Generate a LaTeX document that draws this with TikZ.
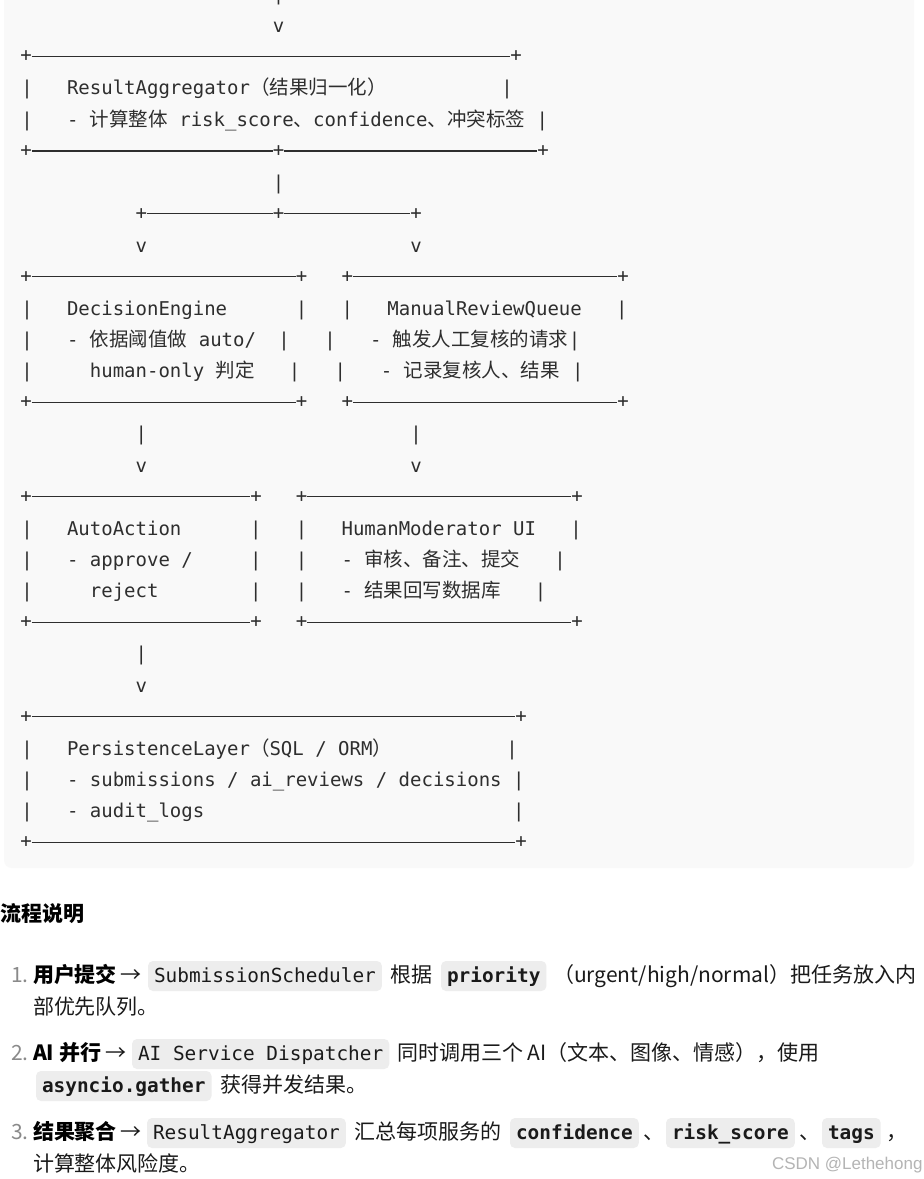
\documentclass[tikz,border=0pt]{standalone}
\usepackage{fontspec}
\newfontfamily\monof{DejaVu Sans Mono}
\newfontfamily\cjkf{Noto Sans CJK SC}
\newfontfamily\wmf{Liberation Sans}
\definecolor{txt}{HTML}{2E2E2E}
\definecolor{bodytxt}{HTML}{1A1A1A}
\definecolor{numgray}{HTML}{8A8A8A}
\definecolor{codebg}{HTML}{EDEDED}
\definecolor{blockbg}{HTML}{F9F9F9}
\definecolor{wm}{HTML}{B4B4B4}
\newcommand\cj[1]{{\cjkf\fontsize{19.5}{22}\selectfont #1}}
\tikzset{
  every node/.style={inner sep=0pt, outer sep=0pt},
  asc/.style={anchor=base west, font=\monof\fontsize{19}{22}\selectfont, text=txt},
  bar/.style={anchor=base, font=\monof\fontsize{19}{22}\selectfont, text=txt},
  crn/.style={anchor=center, font=\monof\fontsize{19}{22}\selectfont, text=txt},
  rule/.style={draw=txt, line width=1.3pt},
  body/.style={anchor=base west, font=\cjkf\fontsize{21}{26}\selectfont, text=bodytxt},
  bold/.style={anchor=base west, font=\cjkf\bfseries\fontsize{21}{26}\selectfont, text=black},
  num/.style={anchor=base west, font=\cjkf\fontsize{21}{26}\selectfont, text=numgray},
  arr/.style={anchor=base, font=\cjkf\fontsize{21}{26}\selectfont, text=bodytxt},
  code/.style={anchor=base west, font=\monof\fontsize{19.4}{22}\selectfont, text=bodytxt, fill=codebg, rounded corners=5pt, inner xsep=6pt, inner ysep=4pt, text height=17pt, text depth=5pt},
  codeb/.style={code, font=\monof\bfseries\fontsize{19.4}{22}\selectfont},
  wmark/.style={anchor=base west, font=\wmf\fontsize{17}{20}\selectfont, text=wm}
}
\begin{document}
\begin{tikzpicture}[x=1pt,y=-1pt]
\useasboundingbox (0,0) rectangle (924,1179);
\fill[white] (0,0) rectangle (924,1179);
\fill[blockbg, rounded corners=8pt] (4,-20) rectangle (914,868);

% top connector into ResultAggregator
\node[bar] (p0) at (278.7,0.7) {|};
\node[bar] (v1) at (278.7,32.13) {v};

% ResultAggregator box
\node[crn] (ra1) at (26,56.56) {+};
\node[crn] (ra2) at (516,56.56) {+};
\draw[rule] (ra1) -- (ra2);
\node[bar] (ral1) at (27,94.99) {|};
\node[asc] (ratx1) at (67,94.99) {ResultAggregator\cj{（结果归一化）}};
\node[bar] (rar1) at (507,94.99) {|};
\node[bar] (ral2) at (27,126.42) {|};
\node[asc] (ratx2) at (67,126.42) {- \cj{计算整体} risk\_score\cj{、}confidence\cj{、冲突标签}};
\node[bar] (rar2) at (542.3,126.42) {|};
\node[crn] (rb1) at (26,150.85) {+};
\node[crn] (rbm) at (278.7,150.85) {+};
\node[crn] (rb2) at (543,150.85) {+};
\draw[rule] (rb1) -- (rbm) -- (rb2);

% split connector
\node[bar] (p6) at (278.7,189.28) {|};
\node[crn] (s1) at (141.4,213.71) {+};
\node[crn] (sm) at (278.7,213.71) {+};
\node[crn] (s2) at (416,213.71) {+};
\draw[rule] (s1) -- (sm) -- (s2);
\node[bar] (v8a) at (141.4,252.14) {v};
\node[bar] (v8b) at (416,252.14) {v};

% DecisionEngine and ManualReviewQueue boxes
\node[crn] (da1) at (26,276.57) {+};
\node[crn] (da2) at (301.6,276.57) {+};
\node[crn] (ma1) at (347.3,276.57) {+};
\node[crn] (ma2) at (623,276.57) {+};
\draw[rule] (da1) -- (da2);
\draw[rule] (ma1) -- (ma2);
\node[bar] at (27,315) {|};
\node[asc] (detx1) at (67,315) {DecisionEngine};
\node[bar] at (301.6,315) {|};
\node[bar] at (347.3,315) {|};
\node[asc] (mrtx1) at (387.4,315) {ManualReviewQueue};
\node[bar] at (621.9,315) {|};
\node[bar] at (27,346.43) {|};
\node[asc] (detx2) at (67,346.43) {- \cj{依据阈值做} auto/};
\node[bar] at (284.2,346.43) {|};
\node[bar] at (330,346.43) {|};
\node[asc] (mrtx2) at (370,346.43) {- \cj{触发人工复核的请求}};
\node[bar] at (574.6,346.43) {|};
\node[bar] at (27,377.86) {|};
\node[asc] (detx3) at (89.9,377.86) {human-only \cj{判定}};
\node[bar] at (294.5,377.86) {|};
\node[bar] at (340.3,377.86) {|};
\node[asc] (mrtx3) at (380.8,377.86) {- \cj{记录复核人、结果}};
\node[bar] at (577.8,377.86) {|};
\node[crn] (db1) at (26,402.29) {+};
\node[crn] (db2) at (301.6,402.29) {+};
\node[crn] (mb1) at (347.3,402.29) {+};
\node[crn] (mb2) at (623,402.29) {+};
\draw[rule] (db1) -- (db2);
\draw[rule] (mb1) -- (mb2);

% connectors down
\node[bar] (p14a) at (141.4,440.72) {|};
\node[bar] (p14b) at (416,440.72) {|};
\node[bar] (v15a) at (141.4,472.15) {v};
\node[bar] (v15b) at (416,472.15) {v};

% AutoAction and HumanModerator UI boxes
\node[crn] (aa1) at (26,496.58) {+};
\node[crn] (aa2) at (256,496.58) {+};
\node[crn] (ha1) at (301.6,496.58) {+};
\node[crn] (ha2) at (577,496.58) {+};
\draw[rule] (aa1) -- (aa2);
\draw[rule] (ha1) -- (ha2);
\node[bar] at (27,535.01) {|};
\node[asc] (aatx1) at (67,535.01) {AutoAction};
\node[bar] at (255.8,535.01) {|};
\node[bar] at (301.6,535.01) {|};
\node[asc] (hmtx1) at (341.6,535.01) {HumanModerator UI};
\node[bar] at (576.1,535.01) {|};
\node[bar] at (27,566.44) {|};
\node[asc] (aatx2) at (67,566.44) {- approve /};
\node[bar] at (255.8,566.44) {|};
\node[bar] at (301.6,566.44) {|};
\node[asc] (hmtx2) at (341.6,566.44) {- \cj{审核、备注、提交}};
\node[bar] at (560,566.44) {|};
\node[bar] at (27,597.87) {|};
\node[asc] (aatx3) at (89.9,597.87) {reject};
\node[bar] at (255.8,597.87) {|};
\node[bar] at (301.6,597.87) {|};
\node[asc] (hmtx3) at (341.6,597.87) {- \cj{结果回写数据库}};
\node[bar] at (540.5,597.87) {|};
\node[crn] (ab1) at (26,622.3) {+};
\node[crn] (ab2) at (256,622.3) {+};
\node[crn] (hb1) at (301.6,622.3) {+};
\node[crn] (hb2) at (577,622.3) {+};
\draw[rule] (ab1) -- (ab2);
\draw[rule] (hb1) -- (hb2);

% connector to persistence
\node[bar] (p21) at (141.4,660.73) {|};
\node[bar] (v22) at (141.4,692.16) {v};

% PersistenceLayer box
\node[crn] (pa1) at (26,716.59) {+};
\node[crn] (pa2) at (521,716.59) {+};
\draw[rule] (pa1) -- (pa2);
\node[bar] at (27,755.02) {|};
\node[asc] (pltx1) at (67,755.02) {PersistenceLayer\cj{（}SQL / ORM\cj{）}};
\node[bar] at (512.1,755.02) {|};
\node[bar] at (27,786.45) {|};
\node[asc] (pltx2) at (67,786.45) {- submissions / ai\_reviews / decisions};
\node[bar] at (518.9,786.45) {|};
\node[bar] at (27,817.88) {|};
\node[asc] (pltx3) at (67,817.88) {- audit\_logs};
\node[bar] at (518.9,817.88) {|};
\node[crn] (pb1) at (26,842.31) {+};
\node[crn] (pb2) at (521,842.31) {+};
\draw[rule] (pb1) -- (pb2);

% explanation
\node[bold] (hd) at (1,921) {流程说明};

\node[num] (n1) at (11,982) {1.};
\node[bold] (b1) at (33,982) {用户提交};
\node[arr] (ar1) at (131,982) {→};
\node[code] (c1) at (148,982) {SubmissionScheduler};
\node[body] (t1a) at (390,982) {根据};
\node[codeb] (c2) at (441,982) {priority};
\node[body] (t1b) at (553,982) {（urgent/high/normal）把任务放入内};
\node[body] (t1c) at (33,1014) {部优先队列。};

\node[num] (n2) at (11,1060) {2.};
\node[bold] (b2) at (33,1060) {AI 并行};
\node[arr] (ar2) at (115.5,1060) {→};
\node[code] (c3) at (132,1060) {AI Service Dispatcher};
\node[body] (t2a) at (397,1060) {同时调用三个 AI（文本、图像、情感），使用};
\node[codeb] (c4) at (36,1092) {asyncio.gather};
\node[body] (t2b) at (220,1092) {获得并发结果。};

\node[num] (n3) at (11,1139) {3.};
\node[bold] (b3) at (33,1139) {结果聚合};
\node[arr] (ar3) at (131,1139) {→};
\node[code] (c5) at (147,1139) {ResultAggregator};
\node[body] (t3a) at (354,1139) {汇总每项服务的};
\node[codeb] (c6) at (510,1139) {confidence};
\node[body] (t3b) at (643,1139) {、};
\node[codeb] (c7) at (666,1139) {risk\_score};
\node[body] (t3c) at (799,1139) {、};
\node[codeb] (c8) at (822,1139) {tags};
\node[body] (t3d) at (886,1139) {，};
\node[body] (t3e) at (33,1171) {计算整体风险度。};

\node[wmark] (wm) at (772,1169) {CSDN @Lethehong};
\end{tikzpicture}
\end{document}
